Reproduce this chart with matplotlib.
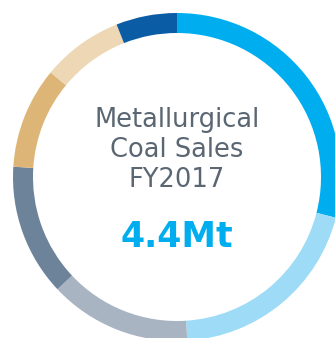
import matplotlib.pyplot as plt

# share of sales, clockwise from 12 o'clock
shares = [29, 20, 14, 13, 10, 8, 6]
colors = ['#00AEEF', '#9DDBF7', '#A9B4C2', '#6D8399', '#DDB677', '#EDD7B5', '#0A5CA5']
title_lines = ['Metallurgical', 'Coal Sales', 'FY2017']
total_label = '4.4Mt'

fig = plt.figure(figsize=(3.35, 3.38), dpi=100)
ax = fig.add_axes([0, 0, 1, 1])

ax.pie(shares, colors=colors, radius=164, center=(177, 161),
       startangle=90, counterclock=False,
       wedgeprops=dict(width=20, linewidth=0))

ax.set_xlim(0, 335)
ax.set_ylim(0, 338)
ax.set_aspect('equal')
ax.axis('off')

ys = [338 - 120, 338 - 150, 338 - 180]
for txt, y in zip(title_lines, ys):
    ax.text(177, y, txt, ha='center', va='center', fontsize=18.5,
            color='#5A6773', family='DejaVu Sans')

ax.text(177, 338 - 237, total_label, ha='center', va='center', fontsize=25,
        fontweight='bold', color='#00AEEF', family='DejaVu Sans')

fig.savefig('out.png', dpi=100)
